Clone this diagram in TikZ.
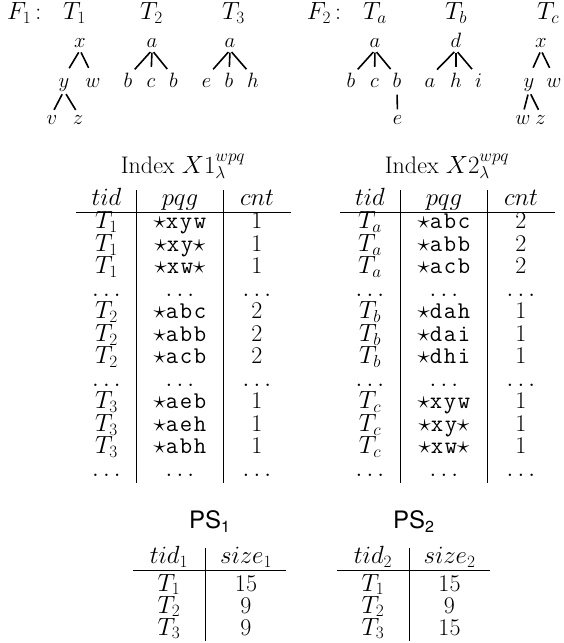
\documentclass[tikz,border=0pt]{standalone}
\usepackage{fontspec}
\newfontfamily\heros{TeX Gyre Heros}
\newfontfamily\pqfont{Latin Modern Mono}[LetterSpace=7]
\newcommand\pqs[1]{$\star${\pqfont #1}}
\begin{document}
\begin{tikzpicture}[x=1pt,y=-1pt, font=\fontsize{24}{28}\selectfont,
  tn/.style={inner sep=0pt, text height=10.5pt, text depth=3pt, anchor=base, font=\fontsize{20.5}{24}\selectfont},
  lab/.style={inner sep=0pt, anchor=base west},
  e1/.style={line width=1.6pt, shorten <=2.5pt, shorten >=10pt},
  e2/.style={line width=1.6pt, shorten <=4pt, shorten >=4.5pt},
  cell/.style={inner sep=0pt, anchor=base},
  rl/.style={line width=0.8pt}]
\useasboundingbox (0,0) rectangle (563,643);
% ---------- labels ----------
\node[lab] (F1) at (7,19.5) {$F_1$\,:};
\node[lab] (L1) at (63,19.5) {$T_1$};
\node[lab] (L2) at (140,19.5) {$T_2$};
\node[lab] (L3) at (222,19.5) {$T_3$};
\node[lab] (F2) at (306.7,19.5) {$F_2$\,:};
\node[lab] (La) at (363,19.5) {$T_a$};
\node[lab] (Lb) at (445,19.5) {$T_b$};
\node[lab] (Lc) at (537,19.5) {$T_c$};
% ---------- T1 ----------
\node[tn] (p1) at (80,47) {$x$};
\node[tn] (p1y) at (64,87.5) {$y$};
\node[tn] (p1w) at (93,87.5) {$w$};
\node[tn] (p1v) at (52,124.5) {$v$};
\node[tn] (p1z) at (78,124.5) {$z$};
\draw[e1] (p1.south) -- (p1y.north);
\draw[e1] (p1.south) -- (p1w.north);
\draw[e2] (p1y.south) -- (p1v.north);
\draw[e2] (p1y.south) -- (p1z.north);
% ---------- T2 ----------
\node[tn] (p2) at (152,47) {$a$};
\node[tn] (p2b) at (128,87.5) {$b$};
\node[tn] (p2c) at (151,87.5) {$c$};
\node[tn] (p2d) at (173.5,87.5) {$b$};
\draw[e1] (p2.south) -- (p2b.north);
\draw[e1] (p2.south) -- (p2c.north);
\draw[e1] (p2.south) -- (p2d.north);
% ---------- T3 ----------
\node[tn] (p3) at (230,47) {$a$};
\node[tn] (p3e) at (206.5,87.5) {$e$};
\node[tn] (p3b) at (229,87.5) {$b$};
\node[tn] (p3h) at (253,87.5) {$h$};
\draw[e1] (p3.south) -- (p3e.north);
\draw[e1] (p3.south) -- (p3b.north);
\draw[e1] (p3.south) -- (p3h.north);
% ---------- Ta ----------
\node[tn] (qa) at (375,47) {$a$};
\node[tn] (qab) at (351,87.5) {$b$};
\node[tn] (qac) at (374.5,87.5) {$c$};
\node[tn] (qad) at (397,87.5) {$b$};
\node[tn] (qae) at (397.5,124.5) {$e$};
\draw[e1] (qa.south) -- (qab.north);
\draw[e1] (qa.south) -- (qac.north);
\draw[e1] (qa.south) -- (qad.north);
\draw[e2] (qad.south) -- (qae.north);
% ---------- Tb ----------
\node[tn] (qb) at (456,47) {$d$};
\node[tn] (qba) at (430,87.5) {$a$};
\node[tn] (qbh) at (456,87.5) {$h$};
\node[tn] (qbi) at (478.5,87.5) {$i$};
\draw[e1] (qb.south) -- (qba.north);
\draw[e1] (qb.south) -- (qbh.north);
\draw[e1] (qb.south) -- (qbi.north);
% ---------- Tc ----------
\node[tn] (qc) at (541,47) {$x$};
\node[tn] (qcy) at (529,87.5) {$y$};
\node[tn] (qcw) at (554,87.5) {$w$};
\node[tn] (qcv) at (523,124.5) {$w$};
\node[tn] (qcz) at (540.5,124.5) {$z$};
\draw[e1] (qc.south) -- (qcy.north);
\draw[e1] (qc.south) -- (qcw.north);
\draw[e2] (qcy.south) -- (qcv.north);
\draw[e2] (qcy.south) -- (qcz.north);
% ---------- Index 1 ----------
\node[cell] (ti1) at (183,173) {Index $X1^{wpq}_{\lambda}$};
\node[cell] (h11) at (106.5,205.5) {$tid$};
\node[cell] (h12) at (180,205.5) {$pqg$};
\node[cell] (h13) at (257,205.5) {$cnt$};
\draw[rl] (76,212.3) -- (290.5,212.3);
\draw[rl] (136.5,189.8) -- (136.5,483);
\draw[rl] (223.5,189.8) -- (223.5,483);
\foreach \t/\p/\c [count=\i from 0] in {
  {T_1}/{\pqs{xyw}}/1, {T_1}/{\pqs{xy}$\star$}/1, {T_1}/{\pqs{xw}$\star$}/1,
  {\dots}/{$\dots$}/{$\dots$},
  {T_2}/{\pqs{abc}}/2, {T_2}/{\pqs{abb}}/2, {T_2}/{\pqs{acb}}/2,
  {\dots}/{$\dots$}/{$\dots$},
  {T_3}/{\pqs{aeb}}/1, {T_3}/{\pqs{aeh}}/1, {T_3}/{\pqs{abh}}/1,
  {\dots}/{$\dots$}/{$\dots$}}{
  \node[cell] (ua\i) at (106.5,{228.8+22.5*\i}) {$\t$};
  \node[cell] (ub\i) at (180,{228.8+22.5*\i}) {\p};
  \node[cell] (uc\i) at (257,{228.8+22.5*\i}) {\c};
}
% ---------- Index 2 ----------
\node[cell] (ti2) at (447,173) {Index $X2^{wpq}_{\lambda}$};
\node[cell] (h21) at (370,205.5) {$tid$};
\node[cell] (h22) at (444,205.5) {$pqg$};
\node[cell] (h23) at (521,205.5) {$cnt$};
\draw[rl] (340,212.3) -- (554.5,212.3);
\draw[rl] (400.5,189.8) -- (400.5,483);
\draw[rl] (487.5,189.8) -- (487.5,483);
\foreach \t/\p/\c [count=\i from 0] in {
  {T_a}/{\pqs{abc}}/2, {T_a}/{\pqs{abb}}/2, {T_a}/{\pqs{acb}}/2,
  {\dots}/{$\dots$}/{$\dots$},
  {T_b}/{\pqs{dah}}/1, {T_b}/{\pqs{dai}}/1, {T_b}/{\pqs{dhi}}/1,
  {\dots}/{$\dots$}/{$\dots$},
  {T_c}/{\pqs{xyw}}/1, {T_c}/{\pqs{xy}$\star$}/1, {T_c}/{\pqs{xw}$\star$}/1,
  {\dots}/{$\dots$}/{$\dots$}}{
  \node[cell] (va\i) at (370,{228.8+22.5*\i}) {$\t$};
  \node[cell] (vb\i) at (444,{228.8+22.5*\i}) {\p};
  \node[cell] (vc\i) at (521,{228.8+22.5*\i}) {\c};
}
% ---------- PS1 ----------
\node[cell] (ps1) at (209.5,528) {\heros PS\raisebox{-4pt}{\fontsize{16}{16}\selectfont 1}};
\node[cell] (k11) at (169,563.5) {$tid_1$};
\node[cell] (k12) at (246,563.5) {$size_1$};
\draw[rl] (133,570) -- (286,570);
\draw[rl] (205,548) -- (205,641);
\foreach \t/\c [count=\i from 0] in {1/15, 2/9, 3/9}{
  \node[cell] (wa\i) at (169,{591+22*\i}) {$T_{\t}$};
  \node[cell] (wb\i) at (246,{591+22*\i}) {\c};
}
% ---------- PS2 ----------
\node[cell] (ps2) at (413.5,528) {\heros PS\raisebox{-4pt}{\fontsize{16}{16}\selectfont 2}};
\node[cell] (k21) at (373,563.5) {$tid_2$};
\node[cell] (k22) at (449.5,563.5) {$size_2$};
\draw[rl] (337,570) -- (490,570);
\draw[rl] (409,548) -- (409,641);
\foreach \t/\c [count=\i from 0] in {1/15, 2/9, 3/15}{
  \node[cell] (xa\i) at (373,{591+22*\i}) {$T_{\t}$};
  \node[cell] (xb\i) at (449.5,{591+22*\i}) {\c};
}
\end{tikzpicture}
\end{document}
